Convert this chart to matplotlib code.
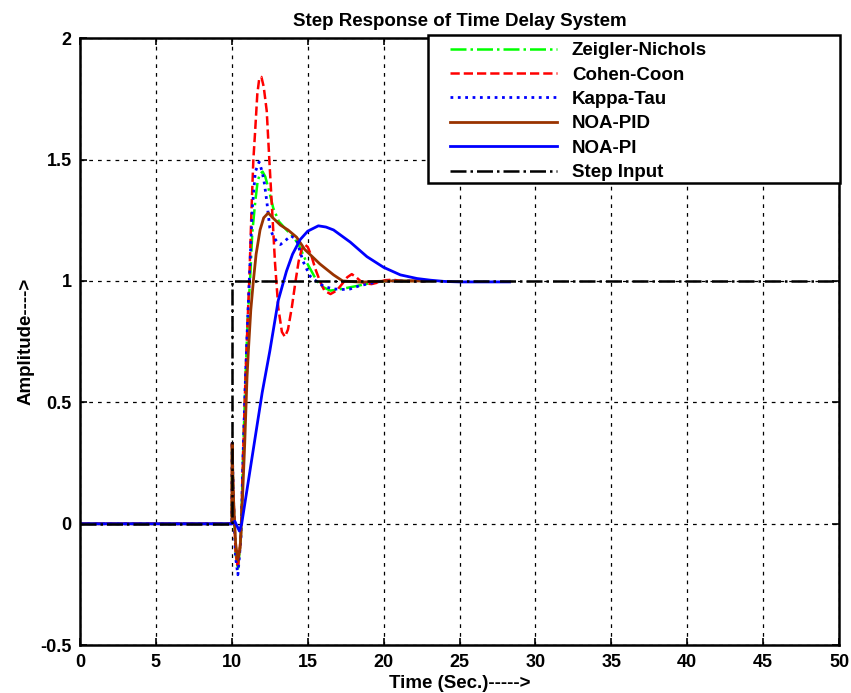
import numpy as np
import matplotlib
matplotlib.use("Agg")
import matplotlib.pyplot as plt
from matplotlib.patches import Rectangle

plt.rcParams['font.family'] = ['Liberation Sans', 'DejaVu Sans']
plt.rcParams['font.weight'] = 'bold'

# values (time in s, amplitude)
t_zn = [0, 10, 10.02, 10.1, 10.25, 10.4, 10.6, 10.75, 10.9, 11.05, 11.2, 11.35, 11.55, 11.7,
        11.85, 12.03, 12.2, 12.4, 12.73, 13.1, 13.6, 14.0, 14.4, 14.9, 15.6, 16.0, 16.5,
        17.3, 18.3, 19.5, 20.5, 22.7]
y_zn = [0, 0, 0.30, 0.12, -0.12, -0.19, -0.05, 0.3, 0.6, 0.85, 1.0, 1.2, 1.33, 1.41,
        1.44, 1.45, 1.43, 1.385, 1.30, 1.245, 1.21, 1.185, 1.15, 1.08, 1.0, 0.975, 0.96,
        0.968, 0.98, 0.997, 1.0, 1.0]

t_cc = [0, 10, 10.02, 10.1, 10.25, 10.4, 10.6, 10.75, 10.9, 11.05, 11.15, 11.3, 11.42, 11.53,
        11.68, 11.8, 11.95, 12.1, 12.3, 12.47, 12.63, 12.85, 13.06, 13.3, 13.5, 13.7, 13.95,
        14.2, 14.4, 14.6, 14.8, 15.0, 15.26, 15.5, 15.8, 16.1, 16.5, 16.9, 17.3, 17.6, 17.9,
        18.2, 18.5, 18.8, 19.2, 19.6, 20.1, 20.6, 21.2, 22.7]
y_cc = [0, 0, 0.33, 0.12, -0.12, -0.18, -0.05, 0.3, 0.6, 0.85, 1.0, 1.3, 1.5, 1.61,
        1.77, 1.83, 1.84, 1.80, 1.70, 1.50, 1.32, 1.07, 0.89, 0.79, 0.77, 0.80, 0.89,
        1.0, 1.08, 1.13, 1.15, 1.14, 1.10, 1.05, 1.0, 0.96, 0.946, 0.96, 0.99, 1.015, 1.028,
        1.015, 0.998, 0.99, 0.987, 0.993, 1.003, 1.005, 1.0, 1.0]

t_kt = [0, 10, 10.02, 10.1, 10.25, 10.4, 10.6, 10.75, 10.9, 11.05, 11.15, 11.35, 11.55, 11.8,
        12.0, 12.15, 12.3, 12.5, 12.75, 13.0, 13.2, 13.5, 13.9, 14.27, 14.5, 14.7, 15.15,
        15.8, 16.2, 16.7, 17.3, 17.8, 18.4, 19.1, 19.8, 20.5, 22.7]
y_kt = [0, 0, 0.34, 0.12, -0.14, -0.21, -0.06, 0.3, 0.6, 0.85, 1.0, 1.3, 1.45, 1.49,
        1.45, 1.40, 1.33, 1.22, 1.18, 1.16, 1.15, 1.165, 1.186, 1.17, 1.12, 1.08, 1.02,
        0.987, 0.975, 0.967, 0.965, 0.967, 0.98, 0.99, 0.998, 1.0, 1.0]

t_pid = [0, 10, 10.02, 10.1, 10.25, 10.4, 10.55, 10.7, 10.85, 11.0, 11.09, 11.25, 11.42, 11.6,
         11.86, 12.1, 12.4, 12.7, 13.2, 13.7, 14.27, 14.8, 15.3, 15.8, 16.7, 17.3, 18.5,
         19.5, 20.5, 22.7]
y_pid = [0, 0, 0.33, 0.12, -0.08, -0.15, -0.1, 0.1, 0.33, 0.6, 0.71, 0.88, 1.0, 1.11,
         1.21, 1.26, 1.28, 1.26, 1.23, 1.21, 1.18, 1.13, 1.10, 1.07, 1.025, 1.0, 0.995,
         0.998, 1.0, 1.0]

t_pi = [0, 10, 10.2, 10.5, 10.65, 11.0, 11.5, 12.0, 12.5, 13.06, 13.6, 14.0, 14.5, 15.0,
        15.7, 16.2, 16.7, 17.8, 18.9, 20.0, 21.1, 22.2, 23.1, 24.0, 25.0, 28.3]
y_pi = [0, 0, 0.01, -0.03, 0.0, 0.14, 0.34, 0.54, 0.71, 0.92, 1.04, 1.11, 1.17, 1.205,
        1.227, 1.222, 1.21, 1.16, 1.10, 1.056, 1.025, 1.01, 1.003, 0.998, 0.996, 0.996]

t_step = [0, 10, 10, 50]
y_step = [0, 0, 1, 1]

labels = ['Zeigler-Nichols', 'Cohen-Coon', 'Kappa-Tau', 'NOA-PID', 'NOA-PI', 'Step Input']

fig = plt.figure(figsize=(8.51, 6.93), dpi=100)
ax = fig.add_axes([0.094, 0.069, 0.892, 0.876])

ax.plot(t_zn, y_zn, color=(0, 1, 0), ls='-.', lw=1.8, label=labels[0])
ax.plot(t_cc, y_cc, color='red', ls='--', lw=1.8, label=labels[1])
ax.plot(t_kt, y_kt, color='blue', ls=':', lw=2, label=labels[2])
ax.plot(t_pid, y_pid, color='#993300', ls='-', lw=2, label=labels[3])
ax.plot(t_pi, y_pi, color='blue', ls='-', lw=2, label=labels[4])
ax.plot(t_step, y_step, color='black', ls='-.', lw=1.8, label=labels[5])

ax.set_xlim(0, 50)
ax.set_ylim(-0.5, 2)
ax.set_xticks(np.arange(0, 51, 5))
ax.set_yticks([-0.5, 0, 0.5, 1, 1.5, 2])
ax.set_yticklabels(['-0.5', '0', '0.5', '1', '1.5', '2'])
ax.grid(True, color='black', ls=(0, (3, 4)), lw=0.9)
ax.tick_params(direction='in', top=True, right=True, labelsize=13, length=5, width=1.2, pad=6)
for s in ax.spines.values():
    s.set_linewidth(1.8)

ax.set_title('Step Response of Time Delay System', fontsize=13.5, fontweight='bold', pad=9)
ax.set_xlabel('Time (Sec.)----->', fontsize=13.5, fontweight='bold', labelpad=3)
ax.set_ylabel('Amplitude---->', fontsize=13.5, fontweight='bold', labelpad=4)

# legend box drawn separately so the entries can sit further in from the left edge
box = Rectangle((0.4585, 0.761), 0.5428, 0.244, transform=ax.transAxes, facecolor='white',
                edgecolor='black', lw=1.8, clip_on=False, zorder=4.5)
ax.add_patch(box)
leg = ax.legend(loc='upper left', bbox_to_anchor=(0.4875, 0.9935), borderaxespad=0,
                borderpad=0, frameon=False, fontsize=13.5, handlelength=5.7,
                handletextpad=0.8, labelspacing=0.39)
leg.set_zorder(6)

fig.savefig('out.png', dpi=100)
